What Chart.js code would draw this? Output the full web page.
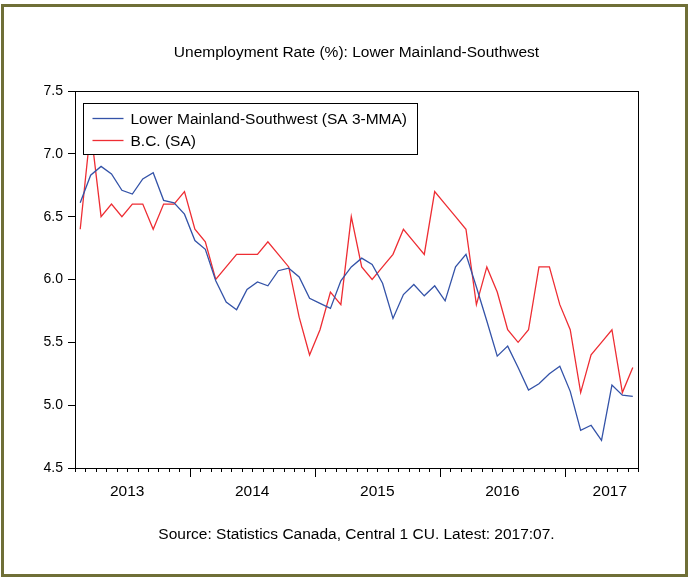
<!DOCTYPE html>
<html>
<head>
<meta charset="utf-8">
<script src="https://cdn.jsdelivr.net/npm/chart.js@4/dist/chart.umd.min.js"></script>
<style>
  html, body { margin: 0; padding: 0; background: #fff; }
  #wrap { position: relative; width: 689px; height: 578px; }
  #frame {
    position: absolute; left: 1px; top: 4px; width: 687px; height: 573px;
    box-sizing: border-box; border: 3px solid #6f6f37; pointer-events: none;
  }
</style>
</head>
<body>
<div id="wrap">
  <canvas id="chart" width="689" height="578"></canvas>
  <div id="frame"></div>
</div>
<script>
"use strict";
// monthly observations, 2013:02 .. 2017:07
const startYear = 2013;
const startMonth = 2;
const yearLabels = ["2013", "2014", "2015", "2016", "2017"];
const yTicks = [4.5, 5.0, 5.5, 6.0, 6.5, 7.0, 7.5];
const titleText = "Unemployment Rate (%): Lower Mainland-Southwest";
const sourceText = "Source: Statistics Canada, Central 1 CU. Latest: 2017:07.";

const lowerMainland = [
    6.61, 6.83, 6.90, 6.84, 6.71, 6.68, 6.80, 6.85, 6.63, 6.61, 6.52, 6.31,
    6.24, 5.99, 5.82, 5.76, 5.92, 5.98, 5.95, 6.07, 6.09, 6.02, 5.85, 5.81,
    5.77, 5.99, 6.10, 6.17, 6.12, 5.97, 5.69, 5.88, 5.96, 5.87, 5.95, 5.83,
    6.10, 6.20, 5.94, 5.67, 5.39, 5.47, 5.30, 5.12, 5.17, 5.25, 5.31, 5.11,
    4.80, 4.84, 4.72, 5.16, 5.08, 5.07
];
const bcRate = [
    6.4, 7.2, 6.5, 6.6, 6.5, 6.6, 6.6, 6.4, 6.6, 6.6, 6.7, 6.4,
    6.3, 6.0, 6.1, 6.2, 6.2, 6.2, 6.3, 6.2, 6.1, 5.7, 5.4, 5.6,
    5.9, 5.8, 6.5, 6.1, 6.0, 6.1, 6.2, 6.4, 6.3, 6.2, 6.7, 6.6,
    6.5, 6.4, 5.8, 6.1, 5.9, 5.6, 5.5, 5.6, 6.1, 6.1, 5.8, 5.6,
    5.1, 5.4, 5.5, 5.6, 5.1, 5.3
];

const months = [];
for (let i = 0; i < bcRate.length; i++) {
    const m = startMonth - 1 + i;
    const y = startYear + Math.floor(m / 12);
    months.push(y + ":" + String(m % 12 + 1).padStart(2, "0"));
}

const fontFamily = "'Liberation Sans', Arial, sans-serif";

// month ticks, year labels, plot box, title and source line
const axisPlugin = {
    id: "axisPlugin",
    afterDraw(chart) {
        const ctx = chart.ctx;
        const area = chart.chartArea;
        const xs = chart.scales.x;
        const step = xs.getPixelForValue(1) - xs.getPixelForValue(0);
        const mid = (area.left + area.right) / 2;
        ctx.save();
        ctx.strokeStyle = "#000";
        ctx.lineWidth = 1;
        ctx.strokeRect(Math.round(area.left) + 0.5, Math.round(area.top) + 0.5,
            Math.round(area.right - area.left), Math.round(area.bottom - area.top));
        for (let i = 0; i <= months.length; i++) {
            const px = Math.round(i < months.length ? xs.getPixelForValue(i) - step / 2
                : xs.getPixelForValue(i - 1) + step / 2) + 0.5;
            const major = i < months.length && months[i].endsWith(":01");
            ctx.beginPath();
            ctx.moveTo(px, area.bottom);
            ctx.lineTo(px, area.bottom + (major ? 9 : 4));
            ctx.stroke();
        }
        ctx.fillStyle = "#000";
        ctx.textAlign = "center";
        ctx.textBaseline = "middle";
        ctx.font = "15.5px " + fontFamily;
        yearLabels.forEach(year => {
            const first = months.findIndex(m => m.startsWith(year));
            const monthNo = Number(months[first].slice(5));
            // centre on the whole calendar year, kept inside the plot
            const jan = xs.getPixelForValue(first) - step / 2 - (monthNo - 1) * step;
            const half = ctx.measureText(year).width / 2;
            let cx = jan + 6 * step;
            cx = Math.min(cx, area.right - 11 - half);
            ctx.fillText(year, cx, area.bottom + 24);
        });
        ctx.fillText(titleText, mid, 53);
        ctx.fillText(sourceText, mid, 535);
        ctx.restore();
    }
};

// boxed legend inside the plot, drawn over the lines
const legendPlugin = {
    id: "boxLegend",
    afterDatasetsDraw(chart) {
        const ctx = chart.ctx;
        const area = chart.chartArea;
        const x0 = Math.round(area.left) + 8.5;
        const y0 = Math.round(area.top) + 12.5;
        ctx.save();
        ctx.fillStyle = "#fff";
        ctx.fillRect(x0, y0, 334, 51);
        ctx.strokeStyle = "#000";
        ctx.lineWidth = 1;
        ctx.strokeRect(x0, y0, 334, 51);
        ctx.font = "15.5px " + fontFamily;
        ctx.textBaseline = "middle";
        chart.data.datasets.forEach((ds, i) => {
            const y = y0 + 15 + i * 22;
            ctx.strokeStyle = ds.borderColor;
            ctx.lineWidth = 1.3;
            ctx.beginPath();
            ctx.moveTo(x0 + 9, y);
            ctx.lineTo(x0 + 40, y);
            ctx.stroke();
            ctx.fillStyle = "#000";
            ctx.fillText(ds.label, x0 + 47, y + 1);
        });
        ctx.restore();
    }
};

new Chart(document.getElementById("chart"), {
    type: "line",
    data: {
        labels: months,
        datasets: [
            {
                label: "Lower Mainland-Southwest (SA 3-MMA)",
                data: lowerMainland,
                borderColor: "#3453a8",
                borderWidth: 1.3,
                pointRadius: 0,
                tension: 0
            }, {
                label: "B.C. (SA)",
                data: bcRate,
                borderColor: "#ee2d33",
                borderWidth: 1.3,
                pointRadius: 0,
                tension: 0
            }
        ]
    },
    options: {
        responsive: false,
        animation: false,
        events: [],
        layout: { padding: { top: 91, left: 0, right: 51, bottom: 110 } },
        plugins: {
            legend: { display: false },
            tooltip: { enabled: false },
            title: { display: false }
        },
        scales: {
            x: {
                type: "category",
                display: false,
                offset: true
            },
            y: {
                min: yTicks[0],
                max: yTicks[yTicks.length - 1],
                afterFit: s => { s.width = 75; },
                afterBuildTicks: s => { s.ticks = yTicks.map(v => ({ value: v })); },
                border: { display: true, color: "#000", width: 1 },
                grid: { drawOnChartArea: false, drawTicks: true, tickLength: 7, tickColor: "#000" },
                ticks: {
                    color: "#000",
                    padding: 5,
                    font: { family: fontFamily, size: 14 },
                    callback: v => Number(v).toFixed(1)
                }
            }
        }
    },
    plugins: [axisPlugin, legendPlugin]
});
</script>
</body>
</html>
